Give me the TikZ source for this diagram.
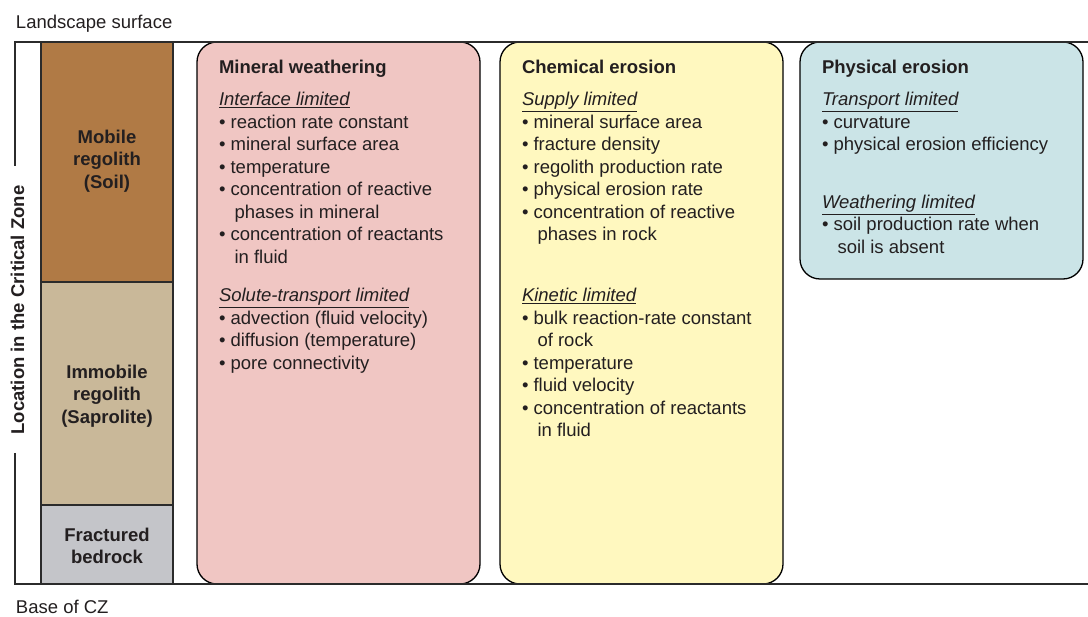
\documentclass[tikz,border=0pt]{standalone}
\usepackage{fontspec}
\setmainfont{Liberation Sans}
\definecolor{txt}{HTML}{231F20}
\definecolor{soil}{HTML}{B07A45}
\definecolor{sap}{HTML}{C9B899}
\definecolor{rock}{HTML}{C4C5C9}
\definecolor{pinkbox}{HTML}{F0C6C3}
\definecolor{yellowbox}{HTML}{FFF8BF}
\definecolor{bluebox}{HTML}{CBE4E7}
\definecolor{linec}{HTML}{2B2B2B}
\tikzset{
  lbl/.style={anchor=base west, inner sep=0pt, outer sep=0pt, text=txt, font=\fontsize{18.5}{22.5}\selectfont},
  head/.style={lbl, font=\fontsize{18.5}{22.5}\selectfont\bfseries},
  sub/.style={lbl, font=\fontsize{18.5}{22.5}\selectfont\itshape},
  layerlbl/.style={anchor=base, inner sep=0pt, outer sep=0pt, text=txt, font=\fontsize{18.5}{22.5}\selectfont\bfseries},
  panel/.style={draw=black, line width=1.3pt, rounded corners=20pt},
  frame/.style={draw=linec, line width=2pt},
}
\begin{document}
\begin{tikzpicture}[x=1pt, y=-1pt]
\useasboundingbox (0,0) rectangle (1088,617);

% panels
\path[panel, fill=pinkbox] (197,42) rectangle (480,584);
\path[panel, fill=yellowbox] (500,42) rectangle (783,584);
\path[panel, fill=bluebox] (800,42) rectangle (1083,279);

% column layers
\fill[soil] (41,42) rectangle (173,282);
\fill[sap] (41,282) rectangle (173,505);
\fill[rock] (41,505) rectangle (173,584);
\draw[frame] (41,42) rectangle (173,584);
\draw[frame] (41,282) -- (173,282);
\draw[frame] (41,505) -- (173,505);

% frame lines
\draw[frame] (15,166) -- (15,42) -- (1088,42);
\draw[frame] (15,453) -- (15,584) -- (1088,584);

% outer labels
\node[lbl] (top) at (16,29) {Landscape surface};
\node[lbl] (base) at (16,613) {Base of CZ};
\node[layerlbl, rotate=90] (loc) at (24,310) {Location in the Critical Zone};

% layer labels
\node[layerlbl] (m1) at (107,143.5) {Mobile};
\node[layerlbl] (m2) at (107,166) {regolith};
\node[layerlbl] (m3) at (107,188.5) {(Soil)};
\node[layerlbl] (i1) at (107,378.5) {Immobile};
\node[layerlbl] (i2) at (107,401) {regolith};
\node[layerlbl] (i3) at (107,423.5) {(Saprolite)};
\node[layerlbl] (f1) at (107,541.5) {Fractured};
\node[layerlbl] (f2) at (107,564) {bedrock};

% Mineral weathering
\node[head] (mwh) at (219,73.5) {Mineral weathering};
\node[sub] (mws1) at (219,106) {\underline{Interface limited}};
\node[lbl] (mw1) at (219,128.5) {• reaction rate constant};
\node[lbl] (mw2) at (219,151) {• mineral surface area};
\node[lbl] (mw3) at (219,173.5) {• temperature};
\node[lbl] (mw4) at (219,196) {• concentration of reactive};
\node[lbl] (mw5) at (234.5,218.5) {phases in mineral};
\node[lbl] (mw6) at (219,241) {• concentration of reactants};
\node[lbl] (mw7) at (234.5,263.5) {in fluid};
\node[sub] (mws2) at (219,302) {\underline{Solute-transport limited}};
\node[lbl] (mw8) at (219,324.5) {• advection (fluid velocity)};
\node[lbl] (mw9) at (219,347) {• diffusion (temperature)};
\node[lbl] (mw10) at (219,369.5) {• pore connectivity};

% Chemical erosion
\node[head] (ceh) at (522,73.5) {Chemical erosion};
\node[sub] (ces1) at (522,106) {\underline{Supply limited}};
\node[lbl] (ce1) at (522,128.5) {• mineral surface area};
\node[lbl] (ce2) at (522,151) {• fracture density};
\node[lbl] (ce3) at (522,173.5) {• regolith production rate};
\node[lbl] (ce4) at (522,196) {• physical erosion rate};
\node[lbl] (ce5) at (522,218.5) {• concentration of reactive};
\node[lbl] (ce6) at (537.5,241) {phases in rock};
\node[sub] (ces2) at (522,302) {\underline{Kinetic limited}};
\node[lbl] (ce7) at (522,324.5) {• bulk reaction-rate constant};
\node[lbl] (ce8) at (537.5,347) {of rock};
\node[lbl] (ce9) at (522,369.5) {• temperature};
\node[lbl] (ce10) at (522,392) {• fluid velocity};
\node[lbl] (ce11) at (522,414.5) {• concentration of reactants};
\node[lbl] (ce12) at (537.5,437) {in fluid};

% Physical erosion
\node[head] (peh) at (822,73.5) {Physical erosion};
\node[sub] (pes1) at (822,106) {\underline{Transport limited}};
\node[lbl] (pe1) at (822,128.5) {• curvature};
\node[lbl] (pe2) at (822,151) {• physical erosion efficiency};
\node[sub] (pes2) at (822,208.5) {\underline{Weathering limited}};
\node[lbl] (pe3) at (822,231) {• soil production rate when};
\node[lbl] (pe4) at (837.5,253.5) {soil is absent};
\end{tikzpicture}
\end{document}
